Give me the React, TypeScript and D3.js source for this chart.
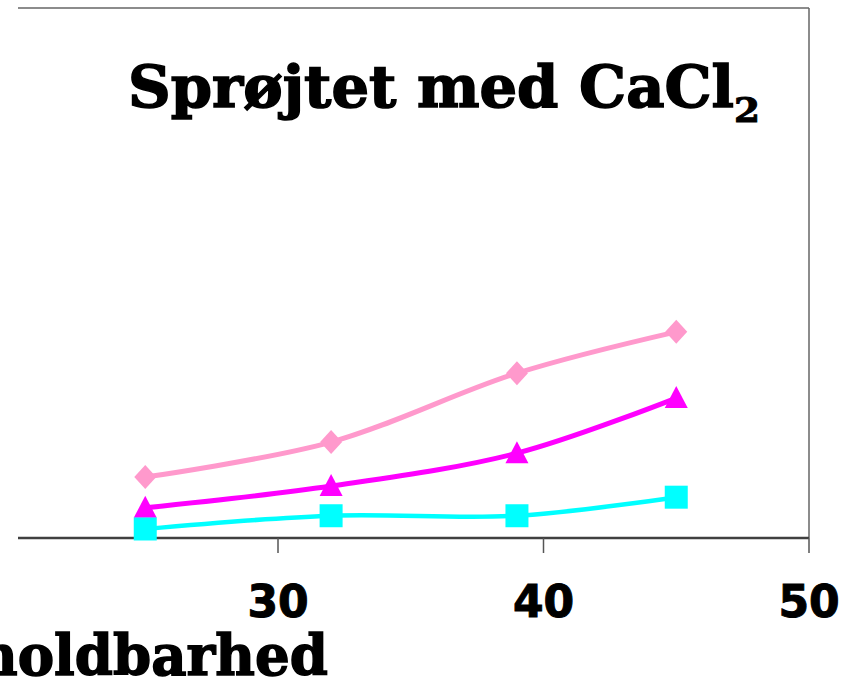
import React from "react";
import * as d3 from "d3";

const xValues = [25, 32, 39, 45];
const seriesPink = [11.5, 18.1, 31.1, 38.9];
const seriesMagenta = [5.7, 9.8, 16.0, 26.4];
const seriesCyan = [1.7, 4.2, 4.2, 7.7];
const xTicks = [30, 40, 50];
const titleText = "Sprøjtet med CaCl";
const titleSub = "2";
const xTitle = "holdbarhed";

const W = 856;
const H = 693;
const left = 18;
const right = 809;
const top = 8;
const bottom = 538;

export default function App() {
  const x = d3.scaleLinear().domain([30, 50]).range([278, 809]);
  const y = d3.scaleLinear().domain([0, 100]).range([bottom, top]);
  const line = d3
    .line<[number, number]>()
    .x((d) => x(d[0]))
    .y((d) => y(d[1]))
    .curve(d3.curveCatmullRom.alpha(0.5));

  const series = [
    { vals: seriesPink, color: "#FF99CC", width: 5, marker: "diamond" },
    { vals: seriesMagenta, color: "#FF00FF", width: 5, marker: "triangle" },
    { vals: seriesCyan, color: "#00FFFF", width: 4.5, marker: "square" },
  ];

  const markerPath = (m: string, cx: number, cy: number) => {
    if (m === "diamond") {
      return `M${cx},${cy - 12}L${cx + 11},${cy}L${cx},${cy + 12}L${cx - 11},${cy}Z`;
    }
    if (m === "triangle") {
      return `M${cx},${cy - 12}L${cx + 11.5},${cy + 10}L${cx - 11.5},${cy + 10}Z`;
    }
    return `M${cx - 11.5},${cy - 11.5}h23v23h-23Z`;
  };

  return (
    <svg
      width={W}
      height={H}
      style={{ position: "absolute", left: 0, top: 0, background: "#fff" }}
    >
      <rect x={0} y={0} width={W} height={H} fill="#fff" />
      {/* frame */}
      <line x1={left} x2={right} y1={top} y2={top} stroke="#666" strokeWidth={1.5} />
      <line x1={right} x2={right} y1={top} y2={bottom} stroke="#666" strokeWidth={1.5} />
      <line x1={left} x2={right} y1={bottom} y2={bottom} stroke="#404040" strokeWidth={2.5} />
      {xTicks.map((t) => (
        <g key={t}>
          <line x1={x(t)} x2={x(t)} y1={bottom} y2={bottom + 15} stroke="#555" strokeWidth={1.5} />
          <text
            x={x(t)}
            y={617}
            textAnchor="middle"
            fontFamily="DejaVu Sans"
            fontWeight="bold"
            fontSize={44}
            fill="#000"
            stroke="#000"
            strokeWidth={1}
          >
            {t}
          </text>
        </g>
      ))}
      {/* series */}
      {series.map((s, i) => {
        const pts: [number, number][] = xValues.map((v, j) => [v, s.vals[j]]);
        return (
          <g key={i}>
            <path d={line(pts) || ""} fill="none" stroke={s.color} strokeWidth={s.width} />
          </g>
        );
      })}
      {series.map((s, i) => (
        <g key={"m" + i}>
          {xValues.map((v, j) => (
            <path key={j} d={markerPath(s.marker, x(v), y(s.vals[j]))} fill={s.color} />
          ))}
        </g>
      ))}
      {/* title */}
      <text
        x={128}
        y={107}
        fontFamily="DejaVu Serif"
        fontWeight="bold"
        fontSize={58}
        textLength={606}
        lengthAdjust="spacingAndGlyphs"
        fill="#000"
        stroke="#000"
        strokeWidth={1.5}
      >
        {titleText}
      </text>
      <text
        x={734}
        y={122}
        fontFamily="DejaVu Serif"
        fontWeight="bold"
        fontSize={33}
        textLength={26}
        lengthAdjust="spacingAndGlyphs"
        fill="#000"
        stroke="#000"
        strokeWidth={1}
      >
        {titleSub}
      </text>
      {/* x axis title */}
      <text
        x={328}
        y={675}
        textAnchor="end"
        fontFamily="DejaVu Serif"
        fontWeight="bold"
        fontSize={56}
        textLength={350}
        lengthAdjust="spacingAndGlyphs"
        fill="#000"
        stroke="#000"
        strokeWidth={1.5}
      >
        {xTitle}
      </text>
    </svg>
  );
}
